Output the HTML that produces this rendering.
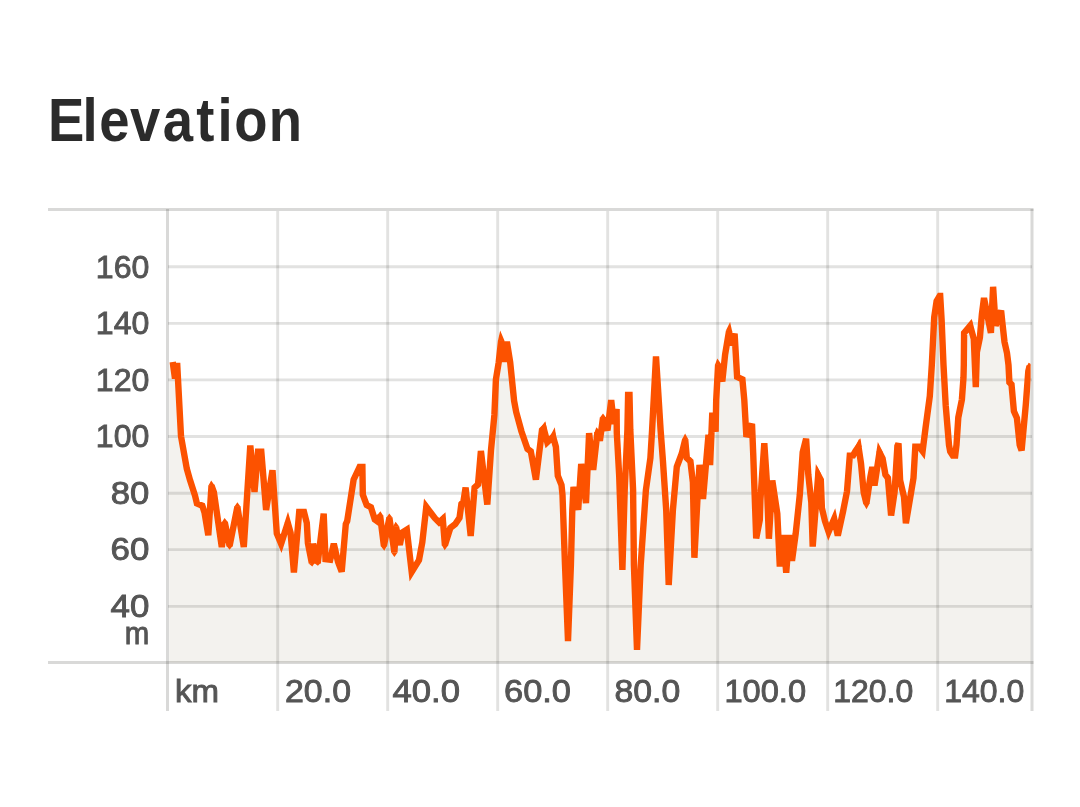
<!DOCTYPE html>
<html lang="en">
<head>
<meta charset="utf-8">
<title>Elevation</title>
<style>
html,body{margin:0;padding:0;background:#fff;}
body{width:1080px;height:807px;overflow:hidden;position:relative;font-family:"Liberation Sans",sans-serif;}
svg{position:absolute;left:0;top:0;display:block;}
.title{font-family:"Liberation Sans",sans-serif;font-weight:700;font-size:60.5px;fill:#2b2b2b;}
.lbl{font-family:"Liberation Sans",sans-serif;font-weight:400;font-size:31.2px;fill:#555555;stroke:#555555;stroke-width:0.9px;}
</style>
</head>
<body>
<svg width="1080" height="807" viewBox="0 0 1080 807">
  <rect x="0" y="0" width="1080" height="807" fill="#ffffff"/>
  <text class="title" transform="translate(0,140.6) scale(0.9,1)" x="53.2 91.7 110.4 144.4 180.9 218.1 241.6 260.2 298.7" y="0">Elevation</text>

  <!-- area fill -->
  <defs><clipPath id="cc"><rect x="169.2" y="200" width="861.4" height="462.5"/></clipPath></defs>
  <path id="area" fill="#f3f2ee" clip-path="url(#cc)" d="M166,362 L172.7,362 L175,378.5 L175.6,366 L177.3,366 L181,436.2 L186.8,468.7 L190,480 L195,495.6 L196.9,503.5 L202.3,505.7 L204.5,512.4 L208.3,535.3 L211.5,485.6 L213.9,492.3 L221.8,547 L224.8,522.4 L229.6,545.8 L237.4,506.8 L243.8,547 L250.3,445.5 L254.5,492 L258,451.8 L261.3,451.8 L266.1,510 L272.5,470.3 L276.8,533.6 L281.1,543.8 L287.8,522.9 L290.6,532.9 L293.9,572.5 L299.2,512 L304,512 L306.8,522.9 L307.9,543 L311.8,563 L313.1,543.7 L317.7,563 L323.7,513.7 L325.5,559.1 L330.2,559.7 L333.8,543.8 L338,561.9 L341.7,571.7 L345.8,524 L347.2,521 L353.6,479.7 L359.6,467 L362.4,467 L362.8,494.6 L366.7,505 L370.9,507.3 L374.8,519.5 L378.1,521.8 L380.1,515.6 L383.9,545.8 L389.4,517.9 L394.4,552.4 L396,526.8 L399.8,545 L402.3,532.4 L406.8,529.6 L411.7,571.9 L419,560.1 L422.3,542.3 L426.3,506.8 L431.3,513.5 L434.7,517.9 L439.1,522.4 L442.8,519 L444.9,545.2 L450.3,528 L455.3,524.1 L459.5,517.9 L461.4,504 L463.4,501.7 L465.6,487.5 L470.7,536 L474.6,487.5 L478,484.5 L480.9,451 L487.3,504.5 L491,450 L494.4,415 L495.9,379.6 L498.7,362.4 L501.1,340.6 L504.3,361.8 L506.9,341.7 L510.2,362.4 L514.1,400.8 L516.2,412 L521.4,431.2 L527.5,449 L530.8,451.3 L535.9,479.7 L542,430.1 L543.7,428.4 L547.3,442.3 L553.1,436.8 L555.9,446.8 L557.8,475.8 L561.5,485 L562.5,495 L565,565 L568,641.2 L570.9,565 L572.3,510 L573.5,487 L578.2,509.9 L581.2,463.9 L586,503.2 L589.1,433.2 L593.2,470 L597.4,432.3 L599.9,440.7 L603,417.8 L607.5,430.3 L611.2,400.2 L613.9,424 L616.6,409 L616.8,433 L619.2,476 L622.4,570 L624.7,490 L627.4,430 L628.1,394.9 L629.5,394.9 L630.3,430 L633.1,490 L633.9,565 L637,649.8 L640.7,565 L645.9,490 L650.4,458 L652.1,430 L656,356.5 L660.6,430 L662.8,459 L666.2,510 L668.7,585 L672.9,510 L676.8,466.8 L681.8,453.5 L685.2,439.5 L686.8,457.9 L690.4,461.3 L692.9,482.5 L694.4,557.8 L697.4,500 L699.5,464.9 L703,499 L708.5,434.8 L710.1,465.1 L712.3,412.7 L715.6,431.6 L716.2,400 L718.1,364.6 L722.3,381.4 L725.1,354.6 L729,331.2 L730.9,345.4 L734.6,333.8 L737.1,376.9 L742.4,379.4 L744.3,400 L746.4,436.7 L752,423.8 L753.2,453.5 L756.2,538.3 L759.8,520 L760.4,500 L764.3,443.2 L766.7,479.1 L768.9,538.7 L772.3,480.5 L777.3,513.6 L779.8,566.5 L783.2,535.1 L786.2,572.8 L789.2,535.1 L792,560.9 L795.7,533.5 L799.8,494.7 L802.7,452.3 L806.1,438.7 L808.3,474.6 L811.3,502.5 L812.7,546.6 L818.2,475 L820.8,479.8 L821.9,508.1 L825,521.2 L828.6,531.8 L834.2,518.8 L837.8,535.5 L843.1,511.2 L847,491.3 L849.8,455.6 L853.1,455.4 L855.4,451.2 L858.5,446.7 L861,463.5 L863.7,492.5 L866.4,503.5 L870.4,476.8 L872.3,467 L874.5,485.5 L879.5,452.3 L882.6,458.4 L885.4,474.6 L887.9,478 L891.1,515.5 L894.6,491.9 L897.4,446 L898.5,443.4 L900.1,480.2 L904,496.9 L905.9,523.2 L910.7,494.7 L913.5,478 L915.3,446.8 L919.3,446.8 L922.6,451.2 L925.6,427.5 L929.8,396.3 L931.8,365 L934.2,317.4 L936.6,301.2 L939.7,296 L940.2,296 L941.6,319.6 L943.5,365 L945.7,405.2 L949,445 L950.2,451.5 L952.8,455.5 L955.2,455.5 L956.5,445 L958.3,417.5 L961.9,399.6 L963.5,377.3 L963.8,365 L964.1,333 L970.2,325.7 L973.8,339 L975.8,387.1 L976.9,352 L979.9,337.5 L981.9,314 L984,298 L990.9,332.8 L993.1,286.8 L995.6,325.7 L1001.1,310.7 L1002.4,323 L1004.5,341.9 L1007,353.1 L1008.5,365 L1009.4,382.3 L1011.5,384.5 L1013.9,411.3 L1016.9,418 L1019.7,445 L1021.6,450.4 L1025.8,404.6 L1028.3,371.2 L1029.6,366 L1033,380 L1034,380 L1034,664 L166,664 Z"/>

  <!-- grid -->
  <g stroke="#1a1a10" stroke-opacity="0.125" stroke-width="2.9" fill="none">
    <line x1="168" y1="266.8" x2="1032" y2="266.8"/>
    <line x1="168" y1="323.4" x2="1032" y2="323.4"/>
    <line x1="168" y1="379.9" x2="1032" y2="379.9"/>
    <line x1="168" y1="436.5" x2="1032" y2="436.5"/>
    <line x1="168" y1="493.2" x2="1032" y2="493.2"/>
    <line x1="168" y1="549.6" x2="1032" y2="549.6"/>
    <line x1="168" y1="606.4" x2="1032" y2="606.4"/>
    <line x1="277.7" y1="211" x2="277.7" y2="711"/>
    <line x1="387.7" y1="211" x2="387.7" y2="711"/>
    <line x1="497.7" y1="211" x2="497.7" y2="711"/>
    <line x1="607.7" y1="211" x2="607.7" y2="711"/>
    <line x1="717.7" y1="211" x2="717.7" y2="711"/>
    <line x1="827.7" y1="211" x2="827.7" y2="711"/>
    <line x1="937.7" y1="211" x2="937.7" y2="711"/>
  </g>
  <g stroke="#1a1a10" stroke-opacity="0.165" stroke-width="3" fill="none">
    <line x1="48" y1="209.5" x2="1033.5" y2="209.5"/>
    <line x1="48" y1="662.5" x2="1033.5" y2="662.5"/>
    <line x1="167.5" y1="209" x2="167.5" y2="711"/>
    <line x1="1032" y1="209" x2="1032" y2="711"/>
  </g>

  <!-- line -->
  <path id="line" fill="none" stroke="#fc5200" stroke-width="6.4" stroke-linejoin="miter" stroke-miterlimit="4" stroke-linecap="butt" clip-path="url(#cc)" d="M172.7,362 L175,378.5 L175.6,366 L177.3,366 L181,436.2 L186.8,468.7 L190,480 L195,495.6 L196.9,503.5 L202.3,505.7 L204.5,512.4 L208.3,535.3 L211.5,485.6 L213.9,492.3 L221.8,547 L224.8,522.4 L229.6,545.8 L237.4,506.8 L243.8,547 L250.3,445.5 L254.5,492 L258,451.8 L261.3,451.8 L266.1,510 L272.5,470.3 L276.8,533.6 L281.1,543.8 L287.8,522.9 L290.6,532.9 L293.9,572.5 L299.2,512 L304,512 L306.8,522.9 L307.9,543 L311.8,563 L313.1,543.7 L317.7,563 L323.7,513.7 L325.5,559.1 L330.2,559.7 L333.8,543.8 L338,561.9 L341.7,571.7 L345.8,524 L347.2,521 L353.6,479.7 L359.6,467 L362.4,467 L362.8,494.6 L366.7,505 L370.9,507.3 L374.8,519.5 L378.1,521.8 L380.1,515.6 L383.9,545.8 L389.4,517.9 L394.4,552.4 L396,526.8 L399.8,545 L402.3,532.4 L406.8,529.6 L411.7,571.9 L419,560.1 L422.3,542.3 L426.3,506.8 L431.3,513.5 L434.7,517.9 L439.1,522.4 L442.8,519 L444.9,545.2 L450.3,528 L455.3,524.1 L459.5,517.9 L461.4,504 L463.4,501.7 L465.6,487.5 L470.7,536 L474.6,487.5 L478,484.5 L480.9,451 L487.3,504.5 L491,450 L494.4,415 L495.9,379.6 L498.7,362.4 L501.1,340.6 L504.3,361.8 L506.9,341.7 L510.2,362.4 L514.1,400.8 L516.2,412 L521.4,431.2 L527.5,449 L530.8,451.3 L535.9,479.7 L542,430.1 L543.7,428.4 L547.3,442.3 L553.1,436.8 L555.9,446.8 L557.8,475.8 L561.5,485 L562.5,495 L565,565 L568,641.2 L570.9,565 L572.3,510 L573.5,487 L578.2,509.9 L581.2,463.9 L586,503.2 L589.1,433.2 L593.2,470 L597.4,432.3 L599.9,440.7 L603,417.8 L607.5,430.3 L611.2,400.2 L613.9,424 L616.6,409 L616.8,433 L619.2,476 L622.4,570 L624.7,490 L627.4,430 L628.1,394.9 L629.5,394.9 L630.3,430 L633.1,490 L633.9,565 L637,649.8 L640.7,565 L645.9,490 L650.4,458 L652.1,430 L656,356.5 L660.6,430 L662.8,459 L666.2,510 L668.7,585 L672.9,510 L676.8,466.8 L681.8,453.5 L685.2,439.5 L686.8,457.9 L690.4,461.3 L692.9,482.5 L694.4,557.8 L697.4,500 L699.5,464.9 L703,499 L708.5,434.8 L710.1,465.1 L712.3,412.7 L715.6,431.6 L716.2,400 L718.1,364.6 L722.3,381.4 L725.1,354.6 L729,331.2 L730.9,345.4 L734.6,333.8 L737.1,376.9 L742.4,379.4 L744.3,400 L746.4,436.7 L752,423.8 L753.2,453.5 L756.2,538.3 L759.8,520 L760.4,500 L764.3,443.2 L766.7,479.1 L768.9,538.7 L772.3,480.5 L777.3,513.6 L779.8,566.5 L783.2,535.1 L786.2,572.8 L789.2,535.1 L792,560.9 L795.7,533.5 L799.8,494.7 L802.7,452.3 L806.1,438.7 L808.3,474.6 L811.3,502.5 L812.7,546.6 L818.2,475 L820.8,479.8 L821.9,508.1 L825,521.2 L828.6,531.8 L834.2,518.8 L837.8,535.5 L843.1,511.2 L847,491.3 L849.8,455.6 L853.1,455.4 L855.4,451.2 L858.5,446.7 L861,463.5 L863.7,492.5 L866.4,503.5 L870.4,476.8 L872.3,467 L874.5,485.5 L879.5,452.3 L882.6,458.4 L885.4,474.6 L887.9,478 L891.1,515.5 L894.6,491.9 L897.4,446 L898.5,443.4 L900.1,480.2 L904,496.9 L905.9,523.2 L910.7,494.7 L913.5,478 L915.3,446.8 L919.3,446.8 L922.6,451.2 L925.6,427.5 L929.8,396.3 L931.8,365 L934.2,317.4 L936.6,301.2 L939.7,296 L940.2,296 L941.6,319.6 L943.5,365 L945.7,405.2 L949,445 L950.2,451.5 L952.8,455.5 L955.2,455.5 L956.5,445 L958.3,417.5 L961.9,399.6 L963.5,377.3 L963.8,365 L964.1,333 L970.2,325.7 L973.8,339 L975.8,387.1 L976.9,352 L979.9,337.5 L981.9,314 L984,298 L990.9,332.8 L993.1,286.8 L995.6,325.7 L1001.1,310.7 L1002.4,323 L1004.5,341.9 L1007,353.1 L1008.5,365 L1009.4,382.3 L1011.5,384.5 L1013.9,411.3 L1016.9,418 L1019.7,445 L1021.6,450.4 L1025.8,404.6 L1028.3,371.2 L1029.6,366 L1033,380"/>

  <path id="tips" fill="#fc5200" clip-path="url(#cc)" d="M214.7,485.4 L211.2,480.6 L208.3,485.8 Z M228.0,522.3 L224.6,518.0 L221.6,522.5 Z M226.4,545.8 L229.6,549.7 L232.8,545.8 Z M240.6,506.8 L237.4,502.3 L234.2,506.8 Z M277.9,544.2 L281.6,548.1 L284.3,543.4 Z M291.0,523.0 L288.0,517.9 L284.6,522.8 Z M308.6,563.5 L312.3,566.4 L315.0,562.5 Z M314.5,563.2 L317.9,565.8 L320.9,562.8 Z M383.3,515.8 L380.4,511.2 L376.9,515.4 Z M380.7,546.1 L384.3,550.8 L387.1,545.5 Z M392.6,517.8 L389.3,513.4 L386.2,518.0 Z M391.2,552.4 L394.4,557.0 L397.6,552.4 Z M399.2,526.5 L395.6,521.8 L392.8,527.1 Z M429.5,506.4 L425.7,501.7 L423.1,507.2 Z M446.0,519.1 L443.0,514.6 L439.6,518.9 Z M441.7,545.1 L444.7,550.3 L448.1,545.3 Z M504.3,340.3 L500.2,330.6 L497.9,340.9 Z M546.8,429.1 L545.3,421.2 L540.6,427.7 Z M556.2,437.4 L554.8,427.3 L550.0,436.2 Z M600.5,431.6 L596.3,427.3 L594.3,433.0 Z M606.2,417.8 L603.0,413.4 L599.8,417.8 Z M688.4,439.4 L685.1,433.4 L682.0,439.6 Z M721.3,364.2 L717.3,358.5 L714.9,365.0 Z M732.2,331.6 L730.1,322.0 L725.8,330.8 Z M821.4,474.5 L816.7,465.5 L815.0,475.5 Z M861.7,447.0 L859.3,438.4 L855.3,446.4 Z M863.2,503.6 L866.5,509.2 L869.6,503.4 Z M882.7,452.1 L879.0,445.6 L876.3,452.5 Z M965.3,330.0 L961.3,331.9 L962.9,336.0 Z M973.3,326.6 L971.9,319.6 L967.1,324.8 Z M1032.7,365.0 L1028.6,362.8 L1026.5,367.0 Z"/>

  <!-- y labels -->
  <g class="lbl">
    <text x="95.8" y="277.5" textLength="53.5" lengthAdjust="spacingAndGlyphs">160</text>
    <text x="95.8" y="334" textLength="53.5" lengthAdjust="spacingAndGlyphs">140</text>
    <text x="95.8" y="390.5" textLength="53.5" lengthAdjust="spacingAndGlyphs">120</text>
    <text x="95.8" y="447.3" textLength="53.5" lengthAdjust="spacingAndGlyphs">100</text>
    <text x="110.7" y="504" textLength="38.6" lengthAdjust="spacingAndGlyphs">80</text>
    <text x="110.5" y="560.2" textLength="38.8" lengthAdjust="spacingAndGlyphs">60</text>
    <text x="110.5" y="616.5" textLength="38.8" lengthAdjust="spacingAndGlyphs">40</text>
    <text x="124.8" y="644" textLength="24.5" lengthAdjust="spacingAndGlyphs">m</text>
  </g>
  <!-- x labels -->
  <g class="lbl">
    <text x="175" y="702.4" textLength="44" lengthAdjust="spacingAndGlyphs">km</text>
    <text x="285" y="702.4" textLength="66" lengthAdjust="spacingAndGlyphs">20.0</text>
    <text x="392.5" y="702.4" textLength="67.5" lengthAdjust="spacingAndGlyphs">40.0</text>
    <text x="504" y="702.4" textLength="67" lengthAdjust="spacingAndGlyphs">60.0</text>
    <text x="614.5" y="702.4" textLength="65.8" lengthAdjust="spacingAndGlyphs">80.0</text>
    <text x="724.4" y="702.4" textLength="81.7" lengthAdjust="spacingAndGlyphs">100.0</text>
    <text x="833.2" y="702.4" textLength="80" lengthAdjust="spacingAndGlyphs">120.0</text>
    <text x="944.2" y="702.4" textLength="80" lengthAdjust="spacingAndGlyphs">140.0</text>
  </g>
</svg>
</body>
</html>
